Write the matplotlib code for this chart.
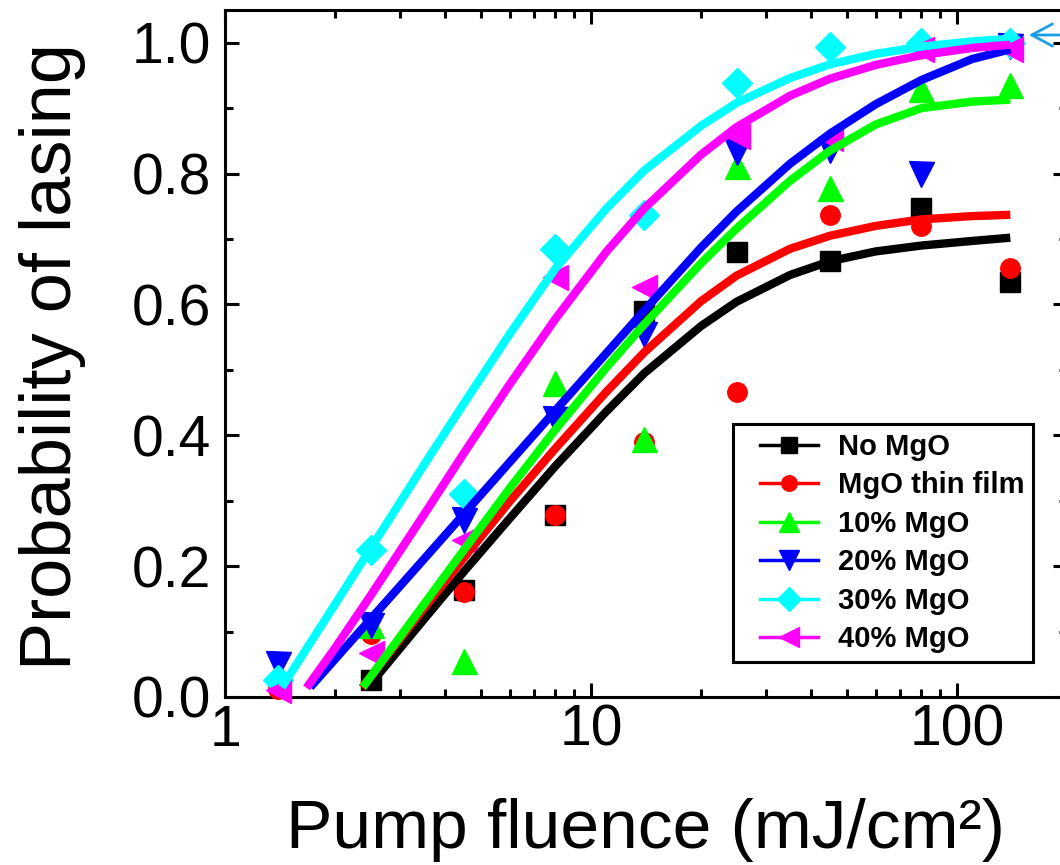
import matplotlib.pyplot as plt
from matplotlib.lines import Line2D
from matplotlib.legend_handler import HandlerLine2D
from matplotlib.ticker import MultipleLocator, LogLocator, NullFormatter, FixedLocator, FixedFormatter

plt.rcParams['font.family'] = ['Liberation Sans', 'DejaVu Sans']

# measured points (pump fluence in mJ/cm^2, probability of lasing)
no_mgo_x = [2.5, 4.5, 8, 14, 25, 45, 80, 140]
no_mgo_y = [0.026, 0.163, 0.278, 0.59, 0.68, 0.667, 0.747, 0.635]
film_x = [1.4, 2.5, 4.5, 8, 14, 25, 45, 80, 140]
film_y = [0.012, 0.097, 0.16, 0.278, 0.39, 0.466, 0.737, 0.72, 0.656]
mgo10_x = [2.5, 4.5, 8, 14, 25, 45, 80, 140]
mgo10_y = [0.11, 0.055, 0.48, 0.395, 0.812, 0.778, 0.929, 0.936]
mgo20_x = [1.4, 2.5, 4.5, 8, 14, 25, 45, 80, 140]
mgo20_y = [0.05, 0.11, 0.27, 0.425, 0.555, 0.833, 0.836, 0.80, 0.995]
mgo30_x = [1.4, 2.5, 4.5, 8, 14, 25, 45, 80, 140]
mgo30_y = [0.026, 0.225, 0.31, 0.684, 0.737, 0.939, 0.993, 1.0, 1.0]
mgo40_x = [1.4, 2.5, 4.5, 8, 14, 25, 45, 80, 140]
mgo40_y = [0.01, 0.067, 0.24, 0.642, 0.627, 0.858, 0.855, 0.99, 0.99]

# fitted curves
fit_no_mgo_x = [2.5, 3.5, 4.5, 6, 8, 11, 14, 20, 25, 35, 45, 60, 80, 110, 140]
fit_no_mgo_y = [0.02, 0.119, 0.192, 0.273, 0.353, 0.436, 0.495, 0.567, 0.604, 0.645, 0.666, 0.681, 0.69, 0.697, 0.702]
fit_film_x = [2.37, 2.5, 3.5, 4.5, 6, 8, 11, 14, 20, 25, 35, 45, 60, 80, 110, 140]
fit_film_y = [0.014, 0.031, 0.136, 0.213, 0.299, 0.38, 0.466, 0.527, 0.605, 0.644, 0.685, 0.705, 0.72, 0.73, 0.735, 0.737]
fit_10_x = [2.38, 2.5, 3.5, 4.5, 6, 8, 11, 14, 20, 25, 35, 45, 60, 80, 110, 140]
fit_10_y = [0.015, 0.031, 0.142, 0.225, 0.319, 0.409, 0.503, 0.57, 0.663, 0.716, 0.789, 0.835, 0.875, 0.9, 0.91, 0.913]
fit_20_x = [1.71, 2, 2.5, 3.5, 4.5, 6, 8, 11, 14, 20, 25, 35, 45, 60, 80, 110, 140]
fit_20_y = [0.015, 0.058, 0.119, 0.211, 0.28, 0.359, 0.438, 0.525, 0.591, 0.687, 0.742, 0.815, 0.861, 0.906, 0.943, 0.975, 0.99]
fit_30_x = [1.43, 2, 2.5, 3.5, 4.5, 6, 8, 11, 14, 20, 25, 35, 45, 60, 80, 110, 140]
fit_30_y = [0.015, 0.142, 0.227, 0.355, 0.449, 0.555, 0.655, 0.746, 0.805, 0.873, 0.908, 0.946, 0.967, 0.983, 0.994, 1.002, 1.006]
fit_40_x = [1.67, 2, 2.5, 3.5, 4.5, 6, 8, 11, 14, 20, 25, 35, 45, 60, 80, 110, 140]
fit_40_y = [0.014, 0.075, 0.155, 0.279, 0.373, 0.478, 0.578, 0.68, 0.747, 0.829, 0.871, 0.919, 0.945, 0.966, 0.981, 0.992, 0.997]

labels = ["No MgO", "MgO thin film", "10% MgO", "20% MgO", "30% MgO", "40% MgO"]
colors = ["black", "#ff0000", "#00ff00", "#0000ff", "#00ffff", "#ff00ff"]
markers = ["s", "o", "^", "v", "D", "<"]
sizes = [15, 14, 18, 18, 15, 18]

points = [(no_mgo_x, no_mgo_y), (film_x, film_y), (mgo10_x, mgo10_y),
          (mgo20_x, mgo20_y), (mgo30_x, mgo30_y), (mgo40_x, mgo40_y)]
fits = [(fit_no_mgo_x, fit_no_mgo_y), (fit_film_x, fit_film_y), (fit_10_x, fit_10_y),
        (fit_20_x, fit_20_y), (fit_30_x, fit_30_y), (fit_40_x, fit_40_y)]

fig = plt.figure(figsize=(10.6, 8.65), dpi=100)
ax = fig.add_axes([225 / 1060, 168 / 865, 842 / 1060, 687 / 865])

for (px, py), c, m, s in zip(points, colors, markers, sizes):
    ax.plot(px, py, linestyle="none", marker=m, ms=s, color=c, mec=c, zorder=3, clip_on=False)
for (fx, fy), c in zip(fits, colors):
    ax.plot(fx, fy, color=c, lw=6, solid_capstyle="butt", solid_joinstyle="round", zorder=4)

ax.set_xscale("log")
ax.set_xlim(1, 200)
ax.set_ylim(0, 1.05)

ax.xaxis.set_major_locator(FixedLocator([1, 10, 100]))
ax.xaxis.set_major_formatter(FixedFormatter(["1", "10", "100"]))
ax.xaxis.set_minor_locator(LogLocator(base=10, subs=range(2, 10)))
ax.xaxis.set_minor_formatter(NullFormatter())
ax.yaxis.set_major_locator(MultipleLocator(0.2))
ax.yaxis.set_minor_locator(MultipleLocator(0.1))
ax.yaxis.set_major_formatter(plt.FuncFormatter(lambda v, p: f"{v:.1f}"))

ax.tick_params(which="both", direction="in", top=True, right=True, width=2.2)
ax.tick_params(which="major", length=10, labelsize=41)
ax.tick_params(which="minor", length=6)
ax.tick_params(axis="x", which="major", pad=5)
ax.tick_params(axis="y", which="major", pad=10)
for sp in ax.spines.values():
    sp.set_linewidth(2.2)

fig.text(645 / 1060, 1 - 848 / 865, "Pump fluence (mJ/cm²)", fontsize=50,
         ha="center", va="baseline")
fig.text(53 / 1060, 1 - 357 / 865, "Probability of lasing", fontsize=52,
         rotation=90, ha="center", va="center")

handles = [Line2D([], [], color=c, marker=m, ms=s * 0.8, lw=2.5)
           for c, m, s in zip(colors, markers, sizes)]
leg = ax.legend(handles, labels, loc="lower right",
                bbox_to_anchor=(1033 / 1060, 1 - 662 / 865), bbox_transform=fig.transFigure,
                borderaxespad=0, fancybox=False, edgecolor="black", framealpha=1,
                prop={"weight": "bold", "size": 21}, handlelength=2.6, handletextpad=0.68,
                labelspacing=0.36, borderpad=0.3,
                handler_map={Line2D: HandlerLine2D(xpad=0.62)})
leg.get_frame().set_linewidth(2.2)
leg.set_zorder(5)

ax.annotate("", xy=(1026 / 1060, 1 - 35 / 865), xycoords="figure fraction",
            xytext=(1062 / 1060, 1 - 35 / 865), textcoords="figure fraction",
            arrowprops=dict(arrowstyle="->,head_length=1.5,head_width=0.8",
                            color="#1e9fe3", lw=2))

fig.savefig("out.png", dpi=100)
